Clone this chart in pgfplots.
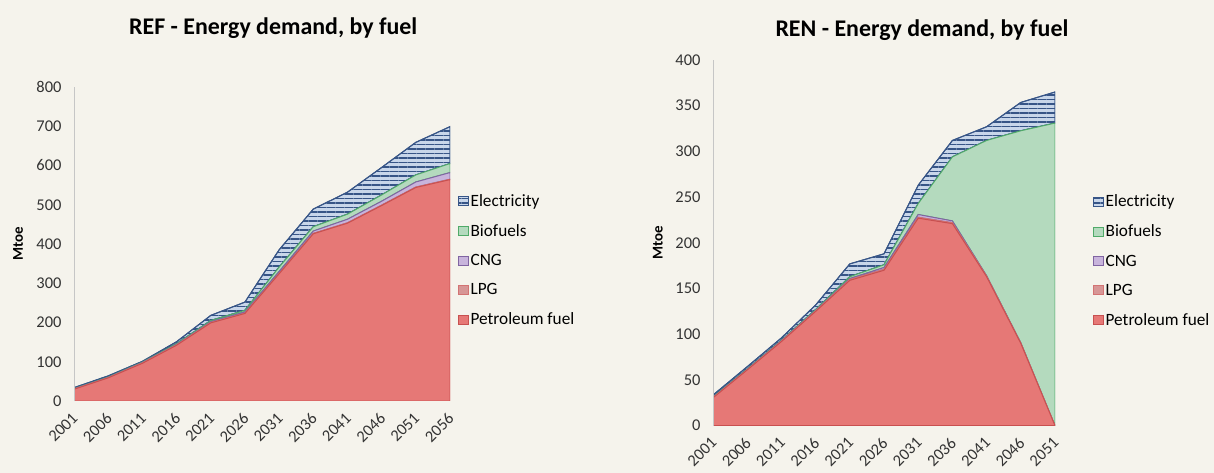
\documentclass[border=0pt]{standalone}
\usepackage{fontspec}
\setmainfont{Carlito}
\usepackage{pgfplots}
\pgfplotsset{compat=1.18}
\usetikzlibrary{patterns.meta}
\definecolor{bg}{RGB}{245,243,236}
\definecolor{petfill}{RGB}{230,120,118}
\definecolor{petline}{RGB}{200,80,80}
\definecolor{lpgfill}{RGB}{215,150,150}
\definecolor{cngfill}{RGB}{200,180,220}
\definecolor{cngline}{RGB}{128,100,162}
\definecolor{biofill}{RGB}{180,218,190}
\definecolor{bioline}{RGB}{80,170,105}
\definecolor{elfill}{RGB}{200,214,234}
\definecolor{elline}{RGB}{55,85,135}
\pgfplotsset{
  mystyle/.style={
    scale only axis, stack plots=y, area style,
    xmin=0, ymin=0,
    /pgf/number format/assume math mode=true,
    axis x line=bottom, axis y line=left, axis line style={-},
    x axis line style={draw=none},
    y axis line style={draw=gray!45, line width=0.8bp},
    major tick length=0pt,
    tick label style={font=\fontsize{16.5}{19}\selectfont, text=black!80},
    yticklabel style={xshift=-9bp},
    xticklabel style={xshift=-3bp, yshift=-9bp, rotate=45, anchor=north east, inner sep=1bp},
    ylabel={Mtoe},
    ylabel style={font=\fontsize{15}{18}\selectfont\bfseries, anchor=center},
    title style={font=\fontsize{24}{28}\selectfont\bfseries, anchor=center},
    legend style={draw=none, fill=none, font=\fontsize{17.3}{19}\selectfont,
      anchor=north west, row sep=12.5bp, inner sep=0pt},
    legend cell align=left, reverse legend,
    legend image code/.code={\draw[#1, line width=1bp] (0bp,-4.5bp) rectangle (9.5bp,4.5bp);},
    every axis plot/.append style={line width=1bp},
    scaled y ticks=false,
  },
  pet/.style={draw=petline, fill=petfill},
  lpg/.style={draw=petline!80, fill=lpgfill},
  cng/.style={draw=cngline, fill=cngfill},
  bio/.style={draw=bioline, fill=biofill},
  ele/.style={draw=elline, fill=elfill, postaction={pattern={Lines[angle=0,distance=4.5bp,line width=1.5bp]}, pattern color=elline}},
}
\begin{document}
\begin{tikzpicture}
\fill[bg] (0bp,0bp) rectangle (1214bp,473bp);
% REF
\begin{axis}[mystyle, at={(74bp,72bp)}, anchor=south west,
  width=376bp, height=314bp, xmax=11, ymax=800, ytick={0,100,...,800},
  xtick={0,...,11},
  xticklabels={2001,2006,2011,2016,2021,2026,2031,2036,2041,2046,2051,2056},
  title={REF - Energy demand, by fuel},
  title style={at={(0.53,1.168)}},
  ylabel style={at={(axis description cs:-0.149,0.5)}},
  legend style={at={(1.021,0.664)}}]
\addplot[pet] coordinates {(0,30)(1,59)(2,96)(3,142)(4,199)(5,223)(6,324)(7,426)(8,453)(9,498)(10,544)(11,564)} \closedcycle;
\addlegendentry{Petroleum fuel}
\addplot[lpg] coordinates {(0,0.5)(1,0.5)(2,1)(3,1)(4,1)(5,1)(6,1)(7,1)(8,1)(9,1)(10,1)(11,1)} \closedcycle;
\addlegendentry{LPG}
\addplot[cng] coordinates {(0,0.5)(1,0.5)(2,1)(3,1)(4,2)(5,3)(6,5)(7,6)(8,9)(9,10)(10,13)(11,17)} \closedcycle;
\addlegendentry{CNG}
\addplot[bio] coordinates {(0,0.5)(1,1)(2,1)(3,2)(4,3)(5,4)(6,11)(7,11)(8,13)(9,16)(10,18)(11,23)} \closedcycle;
\addlegendentry{Biofuels}
\addplot[ele] coordinates {(0,2.5)(1,3)(2,2)(3,5)(4,13)(5,21)(6,44)(7,45)(8,56)(9,70)(10,83)(11,94)} \closedcycle;
\addlegendentry{Electricity}
\end{axis}
% REN
\begin{axis}[mystyle, at={(713bp,47.3bp)}, anchor=south west,
  width=342bp, height=365.7bp, xmax=10, ymax=400, ytick={0,50,...,400},
  xtick={0,...,10},
  xticklabels={2001,2006,2011,2016,2021,2026,2031,2036,2041,2046,2051},
  title={REN - Energy demand, by fuel},
  title style={at={(0.611,1.065)}},
  ylabel style={at={(axis description cs:-0.161,0.5)}},
  legend style={at={(1.111,0.637)}}]
\addplot[pet] coordinates {(0,30.5)(1,61)(2,92)(3,125)(4,159)(5,170)(6,227)(7,221)(8,163)(9,90)(10,0)} \closedcycle;
\addlegendentry{Petroleum fuel}
\addplot[lpg] coordinates {(0,0.3)(1,0.3)(2,0.5)(3,0.5)(4,1)(5,1)(6,1)(7,1)(8,0.5)(9,0.3)(10,0)} \closedcycle;
\addlegendentry{LPG}
\addplot[cng] coordinates {(0,0.2)(1,0.2)(2,0.5)(3,0.5)(4,1)(5,2)(6,3)(7,2)(8,0.5)(9,0.3)(10,0)} \closedcycle;
\addlegendentry{CNG}
\addplot[bio] coordinates {(0,0.5)(1,0.5)(2,0.5)(3,1)(4,2)(5,3)(6,12)(7,70)(8,148)(9,232)(10,331)} \closedcycle;
\addlegendentry{Biofuels}
\addplot[ele] coordinates {(0,2)(1,2.5)(2,2.5)(3,5)(4,14)(5,12)(6,20)(7,18)(8,15)(9,31)(10,34)} \closedcycle;
\addlegendentry{Electricity}
\end{axis}
\end{tikzpicture}
\end{document}
